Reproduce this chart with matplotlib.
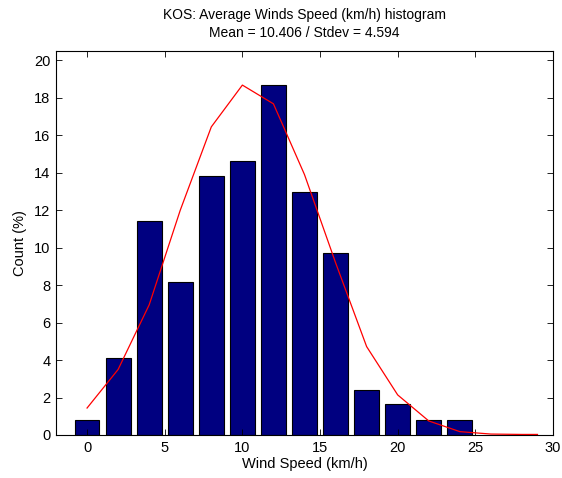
import matplotlib
matplotlib.use("Agg")
import matplotlib.pyplot as plt

plt.rcParams["font.family"] = ["Liberation Sans", "DejaVu Sans"]

# histogram bins (km/h) and share of observations (%)
bin_centers = [0, 2, 4, 6, 8, 10, 12, 14, 16, 18, 20, 22, 24]
counts = [0.8, 4.1, 11.4, 8.15, 13.85, 14.64, 18.68, 12.98, 9.72, 2.4, 1.64, 0.8, 0.8]

# fitted normal curve
fit_x = [0, 2, 4, 6, 8, 10, 12, 14, 16, 18, 20, 22, 24, 26, 28, 29]
fit_y = [1.44, 3.5, 6.95, 12.0, 16.45, 18.68, 17.68, 13.9, 9.2, 4.72, 2.14, 0.75, 0.18, 0.05, 0.03, 0.03]

TITLE = "KOS: Average Winds Speed (km/h) histogram\nMean = 10.406 / Stdev = 4.594"

fig = plt.figure(figsize=(5.62, 4.78), dpi=100)
ax = fig.add_axes([56 / 562, 1 - 435 / 478, 497 / 562, 384 / 478])

ax.bar(bin_centers, counts, width=1.6, color="#000080",
       edgecolor="black", linewidth=0.8)
ax.plot(fit_x, fit_y, color="red", linewidth=0.9)

ax.set_xlim(-2, 30)
ax.set_ylim(0, 20.5)
ax.set_xticks([0, 5, 10, 15, 20, 25, 30])
ax.set_yticks(range(0, 21, 2))
ax.tick_params(direction="in", top=True, right=True, labelsize=10.5,
               length=4, width=0.6, pad=4)
for s in ax.spines.values():
    s.set_linewidth(0.8)

ax.set_xlabel("Wind Speed (km/h)", fontsize=10.5, labelpad=2)
ax.set_ylabel("Count (%)", fontsize=10.5, labelpad=5)
ax.set_title(TITLE, fontsize=10, pad=10, linespacing=1.35)

fig.savefig("out.png", dpi=100)
